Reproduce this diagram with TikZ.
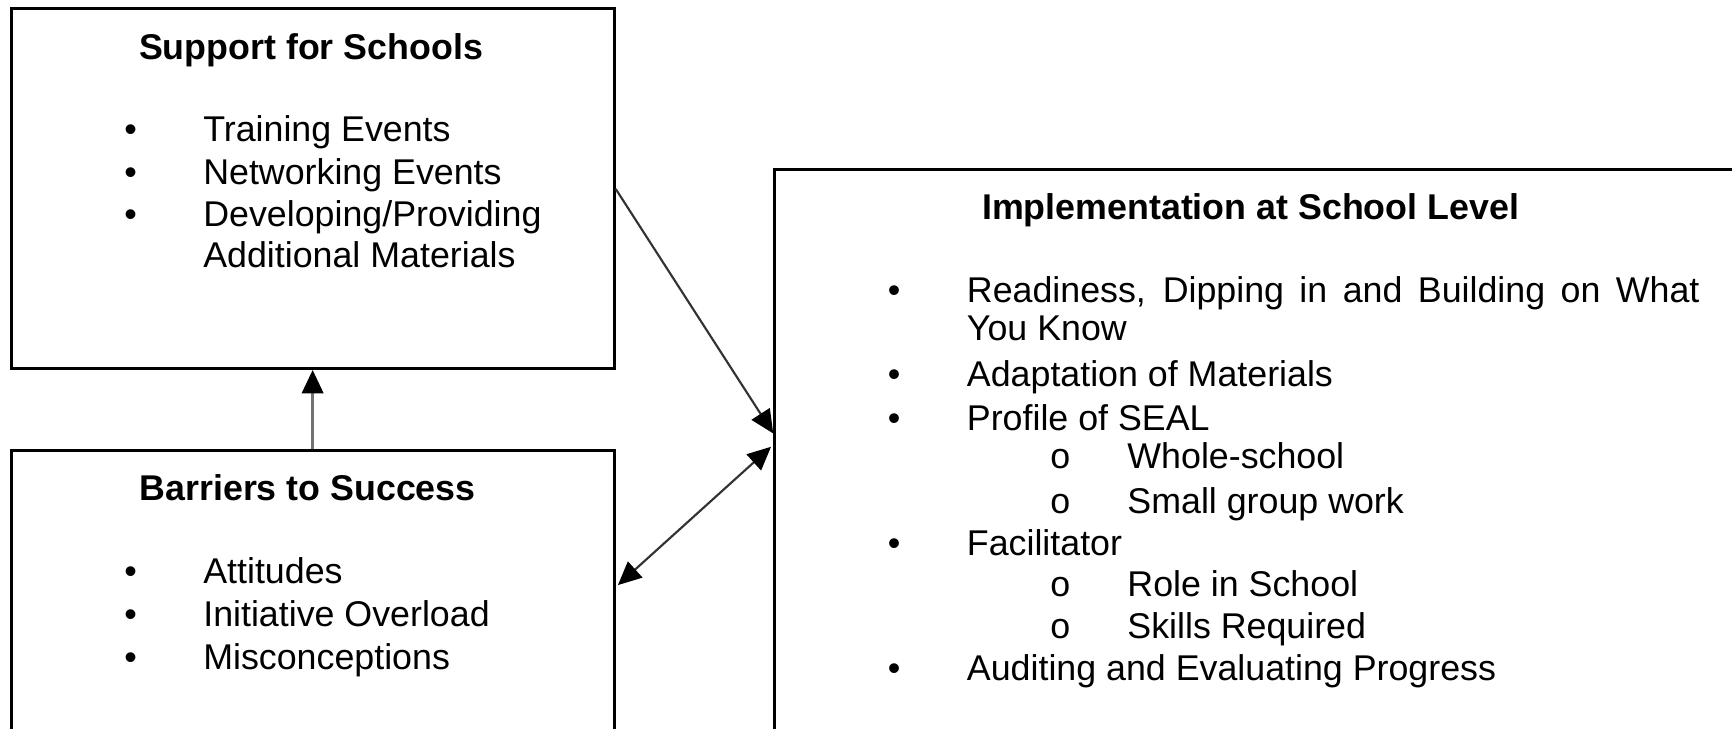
\documentclass[tikz,border=0pt]{standalone}
\usepackage{fontspec}
\setmainfont{Liberation Sans}
\usetikzlibrary{arrows.meta,calc}
\begin{document}
\begin{tikzpicture}[x=1cm,y=-1cm,
  box/.style={draw,line width=0.75pt,rectangle,inner sep=0pt},
  ttl/.style={anchor=base,font=\fontsize{9.2}{11}\selectfont\bfseries,inner sep=0pt},
  itm/.style={anchor=base west,font=\fontsize{9.2}{11}\selectfont,inner sep=0pt},
  bul/.style={anchor=base,font=\fontsize{9.2}{11}\selectfont,inner sep=0pt},
  conn/.style={line width=0.55pt,draw=black!80,-{Triangle[length=6pt,width=5.5pt,color=black]}},
  dconn/.style={line width=0.55pt,draw=black!80,{Triangle[length=6pt,width=5.5pt,color=black]}-{Triangle[length=6pt,width=5.5pt,color=black]}},
]
\useasboundingbox (0,0) rectangle (15.65,6.58);
\clip (0,0) rectangle (15.65,6.58);
\fill[white] (0,0) rectangle (15.65,6.58);

% boxes
\node[box,minimum width=5.45cm,minimum height=3.25cm] (support) at (2.825,1.705) {};
\node[box,minimum width=5.45cm,minimum height=3.6cm] (barriers) at (2.825,5.87) {};
\node[box,minimum width=9.8cm,minimum height=6.0cm] (impl) at (11.9,4.53) {};

% Support for Schools
\node[ttl] (sT) at (2.81,0.535) {Support for Schools};
\node[bul] (sb1) at (1.18,1.28) {•};
\node[itm] (s1) at (1.83,1.28) {Training Events};
\node[bul] (sb2) at (1.18,1.67) {•};
\node[itm] (s2) at (1.83,1.67) {Networking Events};
\node[bul] (sb3) at (1.18,2.05) {•};
\node[itm] (s3) at (1.83,2.05) {Developing/Providing};
\node[itm] (s4) at (1.83,2.42) {Additional Materials};

% Barriers to Success
\node[ttl] (bT) at (2.78,4.525) {Barriers to Success};
\node[bul] (bb1) at (1.18,5.27) {•};
\node[itm] (b1) at (1.83,5.27) {Attitudes};
\node[bul] (bb2) at (1.18,5.66) {•};
\node[itm] (b2) at (1.83,5.66) {Initiative Overload};
\node[bul] (bb3) at (1.18,6.05) {•};
\node[itm] (b3) at (1.83,6.05) {Misconceptions};

% Implementation at School Level
\node[ttl] (iT) at (11.30,1.985) {Implementation at School Level};
\node[bul] (ib1) at (8.08,2.73) {•};
\node[itm] (i1) at (8.73,2.73) {\makebox[6.62cm][s]{Readiness, Dipping in and Building on What}};
\node[itm] (i1b) at (8.73,3.08) {You Know};
\node[bul] (ib2) at (8.08,3.49) {•};
\node[itm] (i2) at (8.73,3.49) {Adaptation of Materials};
\node[bul] (ib3) at (8.08,3.89) {•};
\node[itm] (i3) at (8.73,3.89) {Profile of SEAL};
\node[bul] (io1) at (9.58,4.23) {o};
\node[itm] (i31) at (10.18,4.23) {Whole-school};
\node[bul] (io2) at (9.58,4.64) {o};
\node[itm] (i32) at (10.18,4.64) {Small group work};
\node[bul] (ib4) at (8.08,5.02) {•};
\node[itm] (i4) at (8.73,5.02) {Facilitator};
\node[bul] (io3) at (9.58,5.39) {o};
\node[itm] (i41) at (10.18,5.39) {Role in School};
\node[bul] (io4) at (9.58,5.77) {o};
\node[itm] (i42) at (10.18,5.77) {Skills Required};
\node[bul] (ib5) at (8.08,6.15) {•};
\node[itm] (i5) at (8.73,6.15) {Auditing and Evaluating Progress};

% connectors
\draw[conn,draw=black!55,line width=0.7pt] (barriers.north) -- (support.south);
\draw[conn] ($(support.north east)+(0,1.64)$) -- ($(impl.north west)+(0,2.40)$);
\draw[dconn] ($(barriers.north east)+(0.02,1.23)$) -- ($(impl.north west)+(-0.02,2.52)$);
\end{tikzpicture}
\end{document}
